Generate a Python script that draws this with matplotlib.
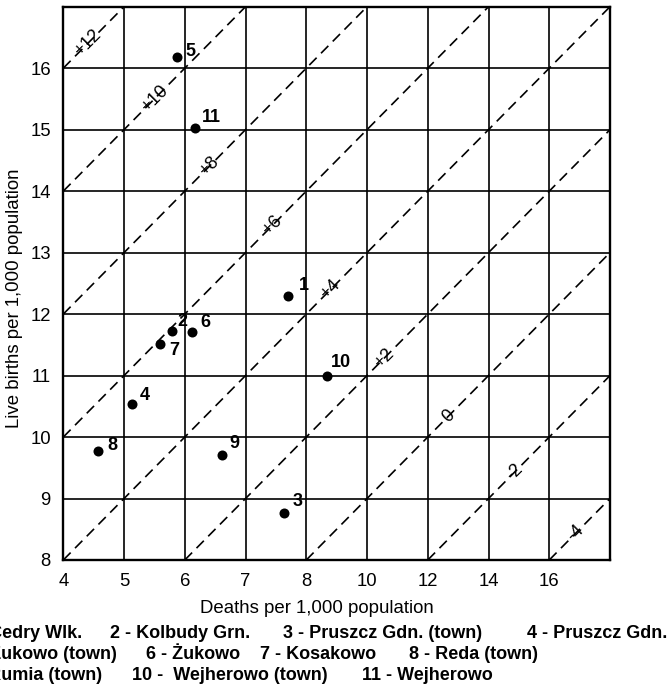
import matplotlib
matplotlib.use("Agg")
import matplotlib.pyplot as plt

plt.rcParams['font.family'] = ['Liberation Sans', 'DejaVu Sans']
plt.rcParams['lines.scale_dashes'] = False

# ---- data (deaths on the chart's evenly spaced axis positions) ----
point_ids = ['1', '2', '3', '4', '5', '6', '7', '8', '9', '10', '11']
deaths = [7.705, 5.79, 7.635, 5.13, 5.875, 6.115, 5.585, 4.574, 6.61, 8.345, 6.175]
births = [12.30, 11.727, 8.763, 10.54, 16.18, 11.706, 11.516, 9.77, 9.705, 10.995, 15.02]

x_tick_pos = [4, 5, 6, 7, 8, 9, 10, 11, 12, 13]
x_tick_labels = ['4', '5', '6', '7', '8', '10', '12', '14', '16', '']
y_tick_pos = [8, 9, 10, 11, 12, 13, 14, 15, 16, 17]
y_tick_labels = ['8', '9', '10', '11', '12', '13', '14', '15', '16', '']

diag_offsets = [12, 10, 8, 6, 4, 2, 0, -2, -4]
diag_labels = ['+12', '+10', '+8', '+6', '+4', '+2', '0', '-2', '-4']
diag_label_x = [4.41, 5.5, 6.40, 7.44, 8.40, 9.28, 10.34, 11.43, 12.44]

legend_lines = [
    ['1 - Cedry Wlk.', '2 - Kolbudy Grn.', '3 - Pruszcz Gdn. (town)', '4 - Pruszcz Gdn.'],
    ['5 - Żukowo (town)', '6 - Żukowo', '7 - Kosakowo', '8 - Reda (town)'],
    ['9 - Rumia (town)', '10 -  Wejherowo (town)', '11 - Wejherowo'],
]

# ---- layout ----
W, H = 668, 688
label_offsets = [(11, 10), (5.5, 9), (9, 12), (8, 8), (8, 6), (9, 10),
                 (10, -7), (9, 6), (7.5, 12), (3.5, 13), (6, 11)]
legend_first_end = [82, 117, 102]
legend_starts = [[110, 283, 527], [146, 260, 409], [132, 362]]
legend_baselines = [638, 659, 680]

fig = plt.figure(figsize=(W / 100, H / 100), dpi=100)
left, right, top, bottom = 63.3, 610, 6.7, 560
ax = fig.add_axes([left / W, 1 - bottom / H, (right - left) / W, (bottom - top) / H])
ax.set_xlim(4, 13)
ax.set_ylim(8, 17)

ax.set_xticks(x_tick_pos)
ax.set_xticklabels(x_tick_labels)
ax.set_yticks(y_tick_pos)
ax.set_yticklabels(y_tick_labels)
ax.tick_params(length=0)
ax.tick_params(axis='x', pad=9, labelsize=13.3)
ax.tick_params(axis='y', pad=9, labelsize=13.3)
ax.grid(True, color='black', lw=1.2)
ax.set_axisbelow(True)
for s in ax.spines.values():
    s.set_linewidth(1.7)
    s.set_color('black')
    s.set_zorder(6)

for c in diag_offsets:
    ax.axline((0, c), slope=1, color='black', lw=1.2, dashes=(7.5, 4.5), zorder=2)

for c, lab, lx in zip(diag_offsets, diag_labels, diag_label_x):
    ax.text(lx, lx + c, lab, rotation=45, rotation_mode='anchor', ha='center', va='center',
            fontsize=13, color='black', zorder=3)

ax.scatter(deaths, births, s=52, color='black', zorder=4, linewidths=0)
for pid, x, y, (dx, dy) in zip(point_ids, deaths, births, label_offsets):
    ax.annotate(pid, (x, y), xytext=(dx, dy), textcoords='offset pixels',
                ha='left', va='center', fontsize=13, fontweight='bold', zorder=5)

fig.text(317 / W, 1 - 613 / H, 'Deaths per 1,000 population', ha='center', va='baseline', fontsize=13.4)
fig.text(15 / W, 1 - 298 / H, 'Live births per 1,000 population', ha='center', va='center',
         rotation=90, fontsize=13.4)

for items, first_end, starts, base in zip(legend_lines, legend_first_end, legend_starts, legend_baselines):
    fig.text(first_end / W, 1 - base / H, items[0], ha='right', va='baseline',
             fontsize=13, fontweight='bold')
    for item, x0 in zip(items[1:], starts):
        fig.text(x0 / W, 1 - base / H, item, ha='left', va='baseline',
                 fontsize=13, fontweight='bold')

fig.savefig('out.png', dpi=100)
